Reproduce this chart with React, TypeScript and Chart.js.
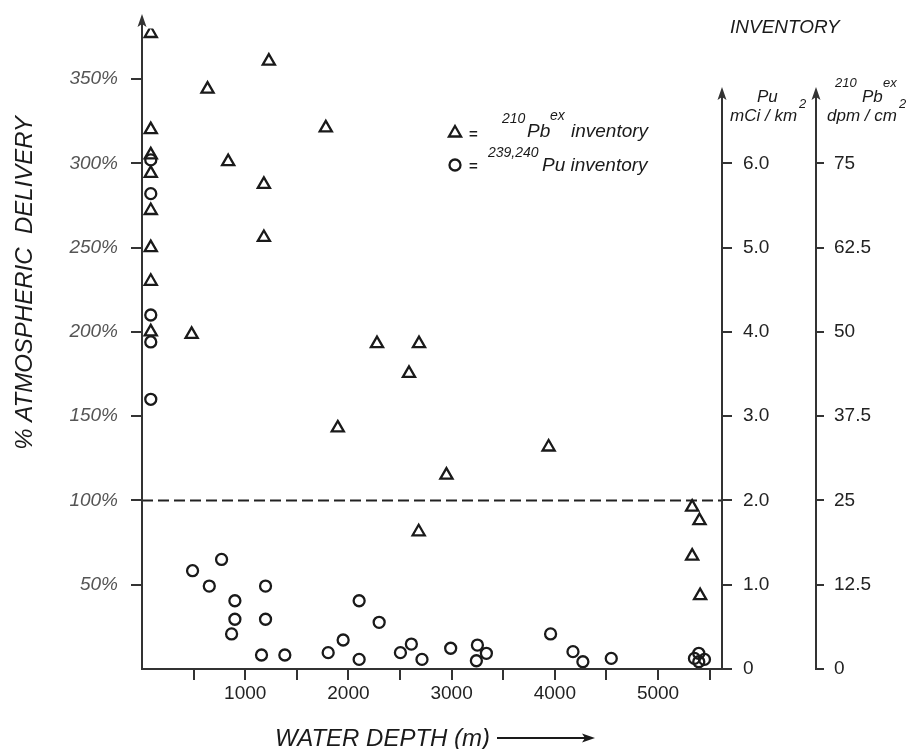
import React, { useEffect, useRef } from 'react';
import { Chart, registerables } from 'chart.js';

Chart.register(...registerables);

// ---- data ----
// 210Pb(ex) inventory (triangles): water depth (m), % of atmospheric delivery
const pbDepth = [85, 635, 85, 85, 835, 85, 85, 85, 85, 85, 481, 1181, 1181, 1229, 1781, 2277, 2684, 2587, 1897, 2950, 3940, 2681, 5331, 5402, 5331, 5408];
const pbValue = [377, 344, 320, 305, 301, 294, 272, 250, 230, 200, 198.5, 287.5, 256, 360.6, 321, 193, 193, 175.4, 143, 115, 131.7, 81.4, 96, 88, 67, 43.5];

// 239,240Pu inventory (circles): water depth (m), % of atmospheric delivery
const puDepth = [85, 85, 85, 85, 85, 490, 652, 771, 900, 900, 868, 1197, 1197, 1158, 1384, 1804, 1949, 2104, 2104, 2298, 2504, 2610, 2713, 2991, 3250, 3337, 3240, 3959, 4176, 4272, 4547, 5395, 5353, 5450, 5395];
const puValue = [302, 282, 210, 194, 160, 58.3, 49.2, 65, 40.5, 29.5, 20.8, 49.2, 29.5, 8.3, 8.3, 9.7, 17.2, 40.5, 5.7, 27.7, 9.7, 14.8, 5.7, 12.3, 14.2, 9.3, 4.9, 20.8, 10.3, 4.3, 6.3, 9.3, 6.3, 5.7, 4.3];

const referenceLevel = 100; // % atmospheric delivery
const xMax = 5620;
const yMax = 380;

const xTickValues = [500, 1000, 1500, 2000, 2500, 3000, 3500, 4000, 4500, 5000, 5500];
const xTickLabels = ['', '1000', '', '2000', '', '3000', '', '4000', '', '5000', ''];
const leftTickValues = [50, 100, 150, 200, 250, 300, 350];
const leftTickLabels = ['50%', '100%', '150%', '200%', '250%', '300%', '350%'];
const puTickValues = [0, 1, 2, 3, 4, 5, 6];
const puTickLabels = ['0', '1.0', '2.0', '3.0', '4.0', '5.0', '6.0'];
const pbTickValues = [0, 12.5, 25, 37.5, 50, 62.5, 75];
const pbTickLabels = ['0', '12.5', '25', '37.5', '50', '62.5', '75'];

// unit conversions: 50 % = 1.0 mCi/km2 Pu = 12.5 dpm/cm2 Pb
const percentPerPu = 50;
const percentPerPb = 4;

const FONT = '"Liberation Sans", Arial, Helvetica, sans-serif';
const INK = '#1a1a1a';
const AXIS = '#333';

function setTicks(values: number[]) {
  return (scale: any) => {
    scale.ticks = values.map((v) => ({ value: v }));
  };
}
function labelFrom(values: number[], labels: string[]) {
  return (v: any) => {
    const i = values.indexOf(Number(v));
    return i >= 0 ? labels[i] : '';
  };
}

const decorPlugin = {
  id: 'decor',
  afterDraw(chart: any) {
    const ctx = chart.ctx as CanvasRenderingContext2D;
    const area = chart.chartArea;
    const pu = chart.scales.pu;
    const pb = chart.scales.pb;
    ctx.save();
    ctx.strokeStyle = AXIS;
    ctx.fillStyle = AXIS;
    ctx.lineWidth = 2;
    const vAxis = (px: number, tipY: number) => {
      ctx.beginPath();
      ctx.moveTo(px, area.bottom + 1);
      ctx.lineTo(px, tipY + 8);
      ctx.stroke();
      ctx.beginPath();
      ctx.moveTo(px, tipY);
      ctx.lineTo(px - 4.5, tipY + 13);
      ctx.lineTo(px, tipY + 10);
      ctx.lineTo(px + 4.5, tipY + 13);
      ctx.closePath();
      ctx.fill();
    };
    vAxis(area.left, 14);
    vAxis(pu.left, 87);
    vAxis(pb.left, 87);
    ctx.beginPath();
    ctx.moveTo(area.left, area.bottom);
    ctx.lineTo(area.right, area.bottom);
    ctx.stroke();

    ctx.fillStyle = INK;
    ctx.textAlign = 'left';
    ctx.textBaseline = 'alphabetic';

    // left axis title
    ctx.save();
    ctx.translate(32, 283);
    ctx.rotate(-Math.PI / 2);
    ctx.textAlign = 'center';
    ctx.font = `italic 24px ${FONT}`;
    ctx.fillText('% ATMOSPHERIC  DELIVERY', 0, 0);
    ctx.restore();

    // bottom axis title with arrow
    ctx.font = `italic 24px ${FONT}`;
    ctx.fillText('WATER DEPTH (m)', 275, 746);
    ctx.strokeStyle = INK;
    ctx.lineWidth = 2;
    ctx.beginPath();
    ctx.moveTo(497, 738);
    ctx.lineTo(585, 738);
    ctx.stroke();
    ctx.beginPath();
    ctx.moveTo(595, 738);
    ctx.lineTo(582, 733.5);
    ctx.lineTo(585, 738);
    ctx.lineTo(582, 742.5);
    ctx.closePath();
    ctx.fill();

    // right titles
    ctx.font = `italic 19px ${FONT}`;
    ctx.fillText('INVENTORY', 730, 33);
    ctx.font = `italic 17px ${FONT}`;
    ctx.fillText('Pu', 757, 102);
    ctx.fillText('mCi / km', 730, 121);
    ctx.fillText('Pb', 862, 102);
    ctx.fillText('dpm / cm', 827, 121);
    ctx.font = `italic 13px ${FONT}`;
    ctx.fillText('2', 799, 108);
    ctx.fillText('210', 835, 87);
    ctx.fillText('ex', 883, 87);
    ctx.fillText('2', 899, 108);

    // legend
    ctx.strokeStyle = INK;
    ctx.lineWidth = 2.3;
    const r = 7;
    const cx = 455;
    const cy = 133;
    ctx.beginPath();
    ctx.moveTo(cx, cy - r);
    ctx.lineTo(cx + r * Math.sin((2 * Math.PI) / 3), cy - r * Math.cos((2 * Math.PI) / 3));
    ctx.lineTo(cx + r * Math.sin((4 * Math.PI) / 3), cy - r * Math.cos((4 * Math.PI) / 3));
    ctx.closePath();
    ctx.stroke();
    ctx.beginPath();
    ctx.arc(455, 165, 5.5, 0, Math.PI * 2);
    ctx.stroke();
    ctx.font = `bold 15px ${FONT}`;
    ctx.fillText('=', 469, 139);
    ctx.fillText('=', 469, 171);
    ctx.font = `italic 14px ${FONT}`;
    ctx.fillText('210', 502, 123);
    ctx.fillText('ex', 550, 120);
    ctx.fillText('239,240', 488, 157);
    ctx.font = `italic 19px ${FONT}`;
    ctx.fillText('Pb', 527, 137);
    ctx.fillText('inventory', 571, 137);
    ctx.fillText('Pu inventory', 542, 171);
    ctx.restore();
  },
};

export default function App() {
  const canvasRef = useRef<HTMLCanvasElement | null>(null);

  useEffect(() => {
    if (!canvasRef.current) return;
    const chart = new Chart(canvasRef.current, {
      type: 'scatter',
      data: {
        datasets: [
          {
            label: '210Pb ex inventory',
            data: pbDepth.map((d, i) => ({ x: d, y: pbValue[i] })),
            pointStyle: 'triangle',
            pointRadius: 7,
            borderWidth: 2.3,
            borderColor: INK,
            backgroundColor: 'rgba(255,255,255,0)',
            xAxisID: 'x',
            yAxisID: 'y',
          },
          {
            label: '239,240Pu inventory',
            data: puDepth.map((d, i) => ({ x: d, y: puValue[i] })),
            pointStyle: 'circle',
            pointRadius: 5.5,
            borderWidth: 2.3,
            borderColor: INK,
            backgroundColor: 'rgba(255,255,255,0)',
            xAxisID: 'x',
            yAxisID: 'y',
          },
          {
            type: 'line',
            label: '100%',
            data: [
              { x: 0, y: referenceLevel },
              { x: xMax, y: referenceLevel },
            ],
            borderColor: '#222',
            borderWidth: 2,
            borderDash: [11, 5],
            pointRadius: 0,
            xAxisID: 'x',
            yAxisID: 'y',
          } as any,
        ],
      },
      options: {
        responsive: false,
        animation: false,
        devicePixelRatio: 1,
        layout: { padding: { top: 669 - yMax * (590 / 350), left: 0, right: 0, bottom: 0 } },
        plugins: { legend: { display: false }, tooltip: { enabled: false } },
        scales: {
          x: {
            type: 'linear',
            position: 'bottom',
            min: 0,
            max: xMax,
            afterBuildTicks: setTicks(xTickValues),
            afterFit: (s: any) => {
              s.height = 80;
            },
            ticks: {
              callback: labelFrom(xTickValues, xTickLabels),
              autoSkip: false,
              maxRotation: 0,
              padding: 2,
              color: '#222',
              font: { family: FONT, size: 19 },
            },
            grid: { drawOnChartArea: false, drawTicks: true, tickLength: 11, tickColor: AXIS, tickWidth: 2, lineWidth: 2 },
            border: { display: false },
          },
          y: {
            type: 'linear',
            position: 'left',
            min: 0,
            max: yMax,
            afterBuildTicks: setTicks(leftTickValues),
            afterFit: (s: any) => {
              s.width = 142;
            },
            ticks: {
              callback: labelFrom(leftTickValues, leftTickLabels),
              padding: 13,
              color: '#555',
              font: { family: FONT, size: 19, style: 'italic' },
            },
            grid: { drawOnChartArea: false, drawTicks: true, tickLength: 11, tickColor: AXIS, tickWidth: 2, lineWidth: 2 },
            border: { display: false },
          },
          pu: {
            type: 'linear',
            position: 'right',
            weight: 0,
            min: 0,
            max: yMax / percentPerPu,
            afterBuildTicks: setTicks(puTickValues),
            afterFit: (s: any) => {
              s.width = 94;
            },
            ticks: {
              callback: labelFrom(puTickValues, puTickLabels),
              padding: 11,
              color: '#222',
              font: { family: FONT, size: 19 },
            },
            grid: { drawOnChartArea: false, drawTicks: true, tickLength: 10, tickColor: AXIS, tickWidth: 2, lineWidth: 2 },
            border: { display: false },
          },
          pb: {
            type: 'linear',
            position: 'right',
            weight: 1,
            min: 0,
            max: yMax / percentPerPb,
            afterBuildTicks: setTicks(pbTickValues),
            afterFit: (s: any) => {
              s.width = 90;
            },
            ticks: {
              callback: labelFrom(pbTickValues, pbTickLabels),
              padding: 10,
              color: '#222',
              font: { family: FONT, size: 19 },
            },
            grid: { drawOnChartArea: false, drawTicks: true, tickLength: 8, tickColor: AXIS, tickWidth: 2, lineWidth: 2 },
            border: { display: false },
          },
        },
      } as any,
      plugins: [decorPlugin],
    });
    return () => chart.destroy();
  }, []);

  return (
    <div style={{ position: 'fixed', left: 0, top: 0, width: 906, height: 749, background: '#fff' }}>
      <canvas ref={canvasRef} width={906} height={749} style={{ display: 'block' }} />
    </div>
  );
}
